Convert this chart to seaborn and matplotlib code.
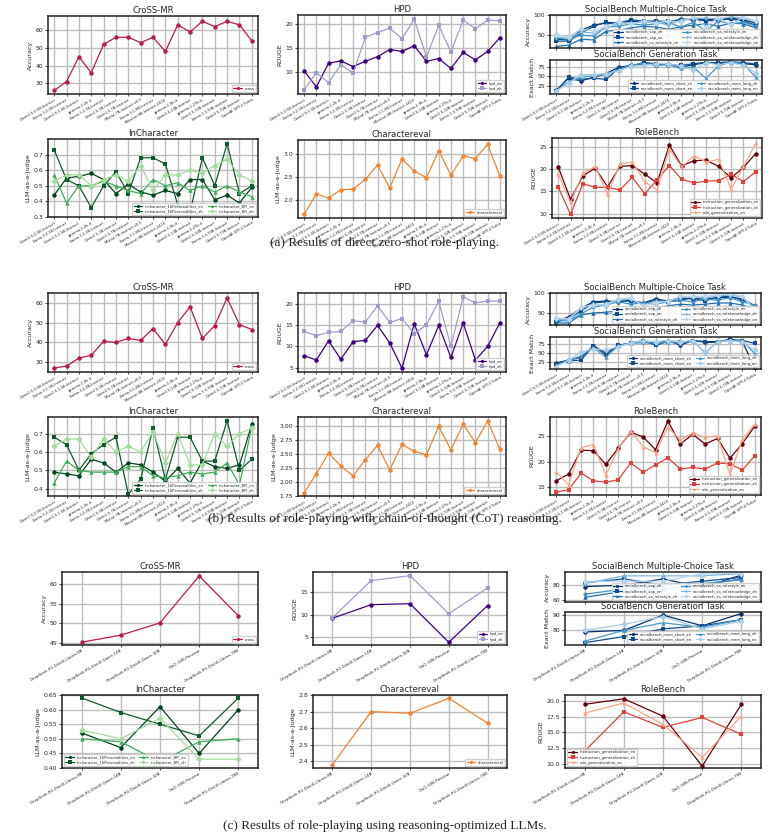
import matplotlib
matplotlib.use("Agg")
import matplotlib.pyplot as plt
import numpy as np
import seaborn as sns

# model names
models = ["Qwen2.5-0.5B-Instruct", "Llama-3.2-1B-Instruct", "Qwen2.5-1.5B-Instruct", "gemma-2-2b-it",
          "Llama-3.2-3B-Instruct", "Qwen2.5-3B-Instruct", "Qwen2.5-7B-Instruct", "Mistral-7B-Instruct-v0.3",
          "Llama-3.1-8B-Instruct", "Ministral-8B-Instruct-2410", "gemma-2-9b-it", "Qwen2.5-14B-Instruct",
          "gemma-2-27b-it", "Qwen2.5-32B-Instruct", "Llama-3.3-70B-Instruct", "Qwen2.5-72B-Instruct",
          "OpenAI GPT-4 Turbo"]
reason_models = ["DeepSeek-R1-Distill-Llama-8B", "DeepSeek-R1-Distill-Qwen-14B", "DeepSeek-R1-Distill-Qwen-32B",
                 "QwQ-32B-Preview", "DeepSeek-R1-Distill-Llama-70B"]

# (a) direct zero-shot
a_cross = [26, 31, 45, 36, 52, 56, 56, 53, 56, 48, 63, 59, 65, 62, 65, 63, 54]
a_hpd_en = [10.2, 6.8, 11.8, 12.3, 11.1, 12.2, 13.2, 14.7, 14.3, 15.5, 12.2, 12.8, 10.7, 14.1, 12.5, 14.3, 17.2]
a_hpd_zh = [6.2, 9.8, 7.7, 11.5, 9.7, 17.3, 18.3, 19.2, 17.0, 21.1, 13.1, 19.8, 14.2, 20.9, 19.1, 20.9, 20.8]
a_sap_zh = [40, 38, 62, 75, 80, 78, 85, 83, 82, 80, 90, 88, 90, 88, 92, 88, 80]
a_sap_en = [35, 35, 55, 72, 82, 80, 88, 85, 85, 84, 88, 90, 85, 88, 90, 85, 75]
a_style_zh = [22, 25, 40, 38, 60, 62, 68, 72, 70, 65, 70, 75, 78, 72, 80, 78, 68]
a_style_en = [42, 40, 50, 48, 70, 72, 78, 75, 78, 82, 70, 82, 60, 85, 78, 82, 72]
a_know_zh = [45, 42, 58, 55, 68, 78, 80, 82, 82, 75, 88, 92, 92, 90, 95, 92, 85]
a_know_en = [52, 45, 65, 60, 72, 82, 78, 85, 80, 85, 82, 95, 70, 94, 75, 95, 85]
a_short_zh = [12, 45, 38, 48, 58, 75, 80, 85, 82, 85, 75, 82, 88, 85, 88, 85, 82]
a_short_en = [10, 48, 42, 45, 42, 72, 78, 88, 85, 82, 80, 85, 88, 88, 90, 88, 84]
a_long_zh = [12, 35, 48, 52, 55, 68, 82, 85, 80, 82, 72, 75, 45, 78, 90, 85, 48]
a_long_en = [10, 32, 55, 55, 58, 65, 78, 80, 85, 85, 78, 68, 88, 82, 88, 80, 60]
a_16p_en = [0.44, 0.55, 0.56, 0.58, 0.54, 0.45, 0.51, 0.46, 0.44, 0.47, 0.45, 0.54, 0.54, 0.41, 0.44, 0.39, 0.49]
a_16p_zh = [0.73, 0.54, 0.50, 0.36, 0.50, 0.59, 0.45, 0.68, 0.68, 0.64, 0.38, 0.33, 0.68, 0.50, 0.77, 0.45, 0.50]
a_bfi_en = [0.57, 0.39, 0.50, 0.50, 0.53, 0.50, 0.47, 0.45, 0.54, 0.50, 0.52, 0.47, 0.50, 0.46, 0.50, 0.46, 0.43]
a_bfi_zh = [0.53, 0.57, 0.57, 0.50, 0.54, 0.57, 0.53, 0.63, 0.47, 0.57, 0.57, 0.60, 0.58, 0.63, 0.67, 0.57, 0.53]
a_chareval = [1.70, 2.14, 2.05, 2.23, 2.24, 2.45, 2.76, 2.27, 2.89, 2.63, 2.49, 3.07, 2.54, 2.96, 2.90, 3.21, 2.52]
a_ig_en = [20.5, 13.2, 18.5, 20.2, 16.0, 20.6, 20.8, 18.9, 16.9, 25.4, 20.7, 21.9, 22.0, 20.6, 18.0, 20.4, 23.5]
a_ig_zh = [16.0, 9.8, 16.7, 15.9, 15.9, 15.3, 18.2, 14.4, 17.6, 20.8, 17.7, 16.9, 17.3, 17.4, 18.8, 17.2, 19.4]
a_rg_en = [18.9, 12.5, 19.1, 20.6, 14.3, 21.2, 21.6, 17.2, 15.3, 24.5, 20.5, 23.0, 21.6, 22.2, 15.5, 20.6, 25.8]

# (b) chain-of-thought
b_cross = [27, 28, 32, 33.5, 40.5, 40, 42, 41, 47, 39, 50, 58, 42, 48.5, 62.5, 49, 46.5]
b_hpd_en = [7.8, 6.8, 11.3, 7.0, 11.1, 11.4, 14.9, 10.8, 4.9, 15.3, 8.0, 14.9, 7.4, 15.5, 6.8, 10.0, 15.5]
b_hpd_zh = [13.5, 12.5, 13.3, 13.5, 16.0, 15.7, 19.5, 15.6, 16.5, 13.0, 15.0, 20.6, 10.0, 21.6, 20.2, 20.6, 20.6]
b_sap_zh = [30, 40, 62, 78, 80, 78, 82, 75, 85, 80, 88, 85, 85, 88, 90, 85, 68]
b_sap_en = [28, 35, 55, 75, 78, 80, 80, 72, 82, 78, 82, 88, 80, 90, 92, 82, 68]
b_style_zh = [25, 25, 45, 50, 52, 55, 55, 65, 62, 68, 72, 70, 72, 75, 75, 70, 60]
b_style_en = [32, 30, 48, 65, 70, 78, 72, 75, 72, 78, 82, 78, 85, 82, 88, 78, 70]
b_know_zh = [35, 32, 62, 72, 68, 82, 85, 70, 80, 78, 90, 90, 88, 92, 95, 90, 62]
b_know_en = [38, 35, 65, 70, 72, 85, 88, 68, 75, 80, 92, 92, 92, 95, 98, 92, 55]
b_short_zh = [22, 30, 38, 70, 50, 70, 78, 80, 78, 85, 72, 85, 82, 82, 88, 82, 8]
b_short_en = [20, 28, 30, 70, 45, 72, 78, 85, 72, 82, 80, 85, 80, 80, 88, 85, 77]
b_long_zh = [15, 28, 42, 65, 38, 70, 78, 80, 78, 80, 78, 85, 50, 82, 85, 85, 48]
b_long_en = [12, 30, 52, 62, 58, 68, 78, 85, 82, 85, 82, 85, 52, 82, 85, 80, 58]
b_16p_en = [0.49, 0.48, 0.47, 0.56, 0.54, 0.49, 0.54, 0.53, 0.49, 0.44, 0.51, 0.43, 0.55, 0.52, 0.51, 0.53, 0.75]
b_16p_zh = [0.68, 0.64, 0.50, 0.59, 0.64, 0.68, 0.37, 0.45, 0.73, 0.45, 0.68, 0.68, 0.55, 0.55, 0.77, 0.50, 0.56]
b_bfi_en = [0.43, 0.55, 0.50, 0.49, 0.49, 0.49, 0.52, 0.52, 0.47, 0.46, 0.47, 0.49, 0.48, 0.49, 0.54, 0.42, 0.74]
b_bfi_zh = [0.63, 0.67, 0.67, 0.57, 0.67, 0.60, 0.63, 0.60, 0.71, 0.54, 0.70, 0.53, 0.53, 0.70, 0.63, 0.70, 0.73]
b_chareval = [1.81, 2.15, 2.52, 2.29, 2.11, 2.40, 2.66, 2.22, 2.68, 2.55, 2.49, 3.00, 2.58, 3.04, 2.71, 3.10, 2.59]
b_ig_en = [16.3, 17.6, 22.3, 22.2, 19.5, 22.7, 25.8, 24.9, 22.4, 28.0, 23.5, 25.4, 23.5, 24.6, 20.7, 23.6, 27.0]
b_ig_zh = [14.1, 14.5, 17.8, 16.3, 16.0, 16.5, 19.8, 18.0, 19.4, 20.8, 18.6, 18.9, 18.6, 19.8, 19.6, 18.4, 21.2]
b_rg_en = [18.0, 15.5, 22.8, 23.4, 17.4, 22.6, 26.0, 23.0, 21.8, 26.8, 24.3, 25.7, 24.8, 25.1, 17.5, 24.4, 27.4]

# (c) reasoning-optimized LLMs
c_cross = [45.2, 47.0, 50.1, 62.0, 51.9]
c_hpd_en = [9.2, 12.2, 12.4, 3.9, 12.0]
c_hpd_zh = [9.3, 17.5, 18.6, 10.2, 15.9]
c_sap_zh = [78, 80, 88, 77, 93]
c_sap_en = [83, 88, 80, 85, 90]
c_style_zh = [64, 72, 75, 80, 88]
c_style_en = [68, 75, 80, 82, 87]
c_know_zh = [82, 92, 92, 92, 95]
c_know_en = [85, 85, 85, 95, 95]
c_short_zh = [79, 80, 90, 83, 91]
c_short_en = [72, 76, 81, 83, 87]
c_long_zh = [73, 80, 85, 82, 87]
c_long_en = [80, 84, 89, 81, 86]
c_16p_en = [0.52, 0.47, 0.61, 0.45, 0.60]
c_16p_zh = [0.64, 0.59, 0.55, 0.51, 0.64]
c_bfi_en = [0.50, 0.49, 0.42, 0.49, 0.50]
c_bfi_zh = [0.53, 0.50, 0.57, 0.43, 0.43]
c_chareval = [2.38, 2.70, 2.69, 2.78, 2.63]
c_ig_en = [19.5, 20.4, 17.6, 9.6, 19.5]
c_ig_zh = [12.0, 18.3, 15.8, 17.4, 14.7]
c_rg_en = [18.1, 19.7, 16.3, 11.0, 17.6]

captions = ["(a) Results of direct zero-shot role-playing.",
            "(b) Results of role-playing with chain-of-thought (CoT) reasoning.",
            "(c) Results of role-playing using reasoning-optimized LLMs."]

sb_mc_names = ["socialbench_sap_zh", "socialbench_sap_en", "socialbench_sa_rolestyle_zh",
               "socialbench_sa_rolestyle_en", "socialbench_sa_roleknowledge_zh", "socialbench_sa_roleknowledge_en"]
sb_gen_names = ["socialbench_mem_short_zh", "socialbench_mem_short_en", "socialbench_mem_long_zh",
                "socialbench_mem_long_en"]
inc_names = ["incharacter_16Personalities_en", "incharacter_16Personalities_zh", "incharacter_BFI_en",
             "incharacter_BFI_zh"]
rb_names = ["instruction_generalization_en", "instruction_generalization_zh", "role_generalization_en"]

blues6 = ["#08306b", "#0b4d94", "#1f6db1", "#4292c6", "#7fb6db", "#b9d6ec"]
blues4 = ["#08306b", "#124d8a", "#4a98c9", "#a9cde6"]
greens = ["#00441b", "#0f5a2b", "#41ab5d", "#a6db9f"]
reds = ["#67000d", "#e0413a", "#fca58b"]
purples = ["#3f007d", "#a09cca"]
cross_col = "#bb1950"
orange = "#f08433"
mk6 = ["o", "s", "^", "p", "P", "D"]
mk4 = ["o", "s", "^", "D"]

sns.set_theme(style="whitegrid")
plt.rcParams.update({
    "axes.edgecolor": "#222222", "axes.linewidth": 1.1, "grid.color": "#bdbdbd", "grid.linewidth": 1.0,
    "xtick.bottom": True, "ytick.left": True, "xtick.major.size": 1.5, "ytick.major.size": 2,
    "xtick.major.width": 0.6, "ytick.major.width": 0.6, "xtick.major.pad": 1, "ytick.major.pad": 1.5,
})
plt.rcParams["font.family"] = ["DejaVu Sans"]

W, H = 769, 839
fig = plt.figure(figsize=(W / 100, H / 100), dpi=100)


def panel(box, xlabels, series, names, colors, markers, title, ylabel, ylim, yticks,
          loc="lower right", ncol=1, xfs=2.6, show_x=True):
    l, t, r, b = box
    ax = fig.add_axes([l / W, 1 - b / H, (r - l) / W, (b - t) / H])
    for vals, name, c, m in zip(series, names, colors, markers):
        sns.lineplot(x=xlabels, y=vals, ax=ax, color=c, marker=m, label=name, sort=False,
                     lw=0.9, markersize=3.2, markeredgewidth=0)
    ax.set_ylim(*ylim)
    ax.set_yticks(yticks)
    ax.tick_params(axis="y", labelsize=4.4)
    ax.set_xticks(range(len(xlabels)))
    if show_x:
        ax.set_xticklabels(xlabels, rotation=30, ha="right", rotation_mode="anchor", fontsize=xfs)
    else:
        ax.set_xticklabels([])
    ax.set_xlim(-0.5, len(xlabels) - 0.5)
    ax.set_xlabel("")
    ax.set_ylabel(ylabel, fontsize=4.6, labelpad=2)
    ax.set_title(title, fontsize=6.1, pad=2)
    ax.grid(True)
    ax.legend(loc=loc, ncol=ncol, fontsize=2.7, markerscale=0.7, handlelength=2.2, borderpad=0.4,
              labelspacing=0.3, columnspacing=1.0, frameon=True, edgecolor="#cccccc", framealpha=0.9)
    return ax


groups = [
    dict(x=models, cross=a_cross, hpd=[a_hpd_en, a_hpd_zh],
         mc=[a_sap_zh, a_sap_en, a_style_zh, a_style_en, a_know_zh, a_know_en],
         gen=[a_short_zh, a_short_en, a_long_zh, a_long_en],
         inc=[a_16p_en, a_16p_zh, a_bfi_en, a_bfi_zh], chv=a_chareval, rb=[a_ig_en, a_ig_zh, a_rg_en],
         lims=dict(cross=((24, 68), [30, 40, 50, 60]), hpd=((5.3, 22), [10, 15, 20]),
                   mc=((18, 100), [50, 100]), gen=((2, 95), [25, 50, 75]),
                   inc=((0.3, 0.8), [0.3, 0.4, 0.5, 0.6, 0.7]), chv=((1.62, 3.3), [2.0, 2.5, 3.0]),
                   rb=((9, 27), [10, 15, 20, 25])),
         boxes=dict(cross=(48, 16, 258, 94), hpd=(298, 15, 506, 94), mc=(550, 15, 762, 48),
                    gen=(550, 60, 762, 94), inc=(48, 139, 258, 217), chv=(298, 140, 506, 218),
                    rb=(552, 138, 762, 218)), cap=243, incloc="lower right", rbloc="lower right", xfs=2.6),
    dict(x=models, cross=b_cross, hpd=[b_hpd_en, b_hpd_zh],
         mc=[b_sap_zh, b_sap_en, b_style_zh, b_style_en, b_know_zh, b_know_en],
         gen=[b_short_zh, b_short_en, b_long_zh, b_long_en],
         inc=[b_16p_en, b_16p_zh, b_bfi_en, b_bfi_zh], chv=b_chareval, rb=[b_ig_en, b_ig_zh, b_rg_en],
         lims=dict(cross=((25, 65), [30, 40, 50, 60]), hpd=((4, 22.5), [5, 10, 15, 20]),
                   mc=((20, 100), [50, 100]), gen=((5, 95), [25, 50, 75]),
                   inc=((0.36, 0.79), [0.4, 0.5, 0.6, 0.7]),
                   chv=((1.75, 3.17), [1.75, 2.0, 2.25, 2.5, 2.75, 3.0]),
                   rb=((13.5, 28.8), [15, 20, 25])),
         boxes=dict(cross=(48, 293, 258, 372), hpd=(298, 293, 506, 372), mc=(550, 293, 761, 325),
                    gen=(550, 337, 761, 369), inc=(48, 417, 258, 496), chv=(298, 417, 506, 496),
                    rb=(550, 417, 761, 495)), cap=519, incloc="lower right", rbloc="lower right", xfs=2.6),
    dict(x=reason_models, cross=c_cross, hpd=[c_hpd_en, c_hpd_zh],
         mc=[c_sap_zh, c_sap_en, c_style_zh, c_style_en, c_know_zh, c_know_en],
         gen=[c_short_zh, c_short_en, c_long_zh, c_long_en],
         inc=[c_16p_en, c_16p_zh, c_bfi_en, c_bfi_zh], chv=c_chareval, rb=[c_ig_en, c_ig_zh, c_rg_en],
         lims=dict(cross=((44.5, 63), [45, 50, 55, 60]), hpd=((3.3, 19.4), [5, 10, 15]),
                   mc=((58, 97), [60, 80]), gen=((70.5, 92), [80, 90]),
                   inc=((0.40, 0.65), [0.40, 0.45, 0.50, 0.55, 0.60, 0.65]),
                   chv=((2.36, 2.80), [2.4, 2.5, 2.6, 2.7, 2.8]),
                   rb=((9.3, 21), [10.0, 12.5, 15.0, 17.5, 20.0])),
         boxes=dict(cross=(62, 572, 258, 645), hpd=(313, 572, 507, 645), mc=(565, 572, 761, 602),
                    gen=(565, 612, 761, 645), inc=(62, 695, 258, 768), chv=(313, 695, 507, 768),
                    rb=(565, 695, 761, 768)), cap=826, incloc="lower left", rbloc="lower left", xfs=2.9),
]

for g, cap in zip(groups, captions):
    x, L, B = g["x"], g["lims"], g["boxes"]
    panel(B["cross"], x, [g["cross"]], ["cross"], [cross_col], ["o"], "CroSS-MR", "Accuracy",
          *L["cross"], xfs=g["xfs"])
    panel(B["hpd"], x, g["hpd"], ["hpd_en", "hpd_zh"], purples, ["o", "s"], "HPD", "ROUGE",
          *L["hpd"], xfs=g["xfs"])
    panel(B["mc"], x, g["mc"], sb_mc_names, blues6, mk6, "SocialBench Multiple-Choice Task", "Accuracy",
          *L["mc"], loc="lower right", ncol=2, show_x=False)
    panel(B["gen"], x, g["gen"], sb_gen_names, blues4, mk4, "SocialBench Generation Task", "Exact Match",
          *L["gen"], loc="lower right", ncol=2, xfs=g["xfs"])
    panel(B["inc"], x, g["inc"], inc_names, greens, mk4, "InCharacter", "LLM-as-a-Judge",
          *L["inc"], loc=g["incloc"], ncol=2, xfs=g["xfs"])
    panel(B["chv"], x, [g["chv"]], ["charactereval"], [orange], ["o"], "Charactereval", "LLM-as-a-Judge",
          *L["chv"], xfs=g["xfs"])
    panel(B["rb"], x, g["rb"], rb_names, reds, ["o", "s", "^"], "RoleBench", "ROUGE",
          *L["rb"], loc=g["rbloc"], xfs=g["xfs"])
    fig.text(0.5, 1 - g["cap"] / H, cap, ha="center", va="center", fontsize=9.5,
             family=["Liberation Serif", "DejaVu Serif"])

fig.savefig("out.png", dpi=100, facecolor="white")
